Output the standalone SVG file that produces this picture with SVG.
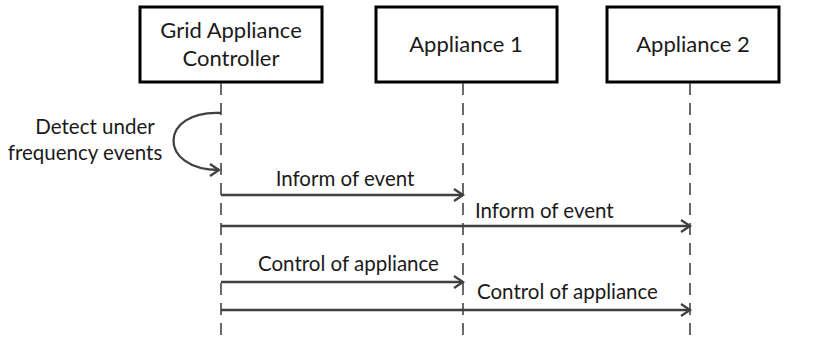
<svg xmlns="http://www.w3.org/2000/svg" width="832" height="343" viewBox="0 0 832 343">
<defs>
<style>
.box{fill:#fff;stroke:#000;stroke-width:3}
.t{font-family:Lato,"Liberation Sans",sans-serif;font-size:22px;fill:#1a1a1a;text-anchor:middle}
.m{font-family:Lato,"Liberation Sans",sans-serif;font-size:20.5px;fill:#1a1a1a}
.life{stroke:#444;stroke-width:1.6;stroke-dasharray:12 8;fill:none}
.msg{stroke:#404040;stroke-width:2.3;fill:none;marker-end:url(#ah)}
</style>
<marker id="ah" markerWidth="14" markerHeight="14" refX="11" refY="7" orient="auto" markerUnits="userSpaceOnUse">
<path d="M2,1 L11,7 L2,13" fill="none" stroke="#404040" stroke-width="2.3"/>
</marker>
</defs>
<rect width="832" height="343" fill="#fff"/>
<g id="gac">
<rect class="box" x="140" y="7" width="182" height="75"/>
<text class="t" x="231" y="38">Grid Appliance</text>
<text class="t" x="231" y="66">Controller</text>
</g>
<g id="app1">
<rect class="box" x="376" y="7" width="181" height="75"/>
<text class="t" x="466" y="52">Appliance 1</text>
</g>
<g id="app2">
<rect class="box" x="607" y="7" width="172" height="75"/>
<text class="t" x="693" y="52">Appliance 2</text>
</g>
<g id="connectors">
<line class="life" x1="221" y1="83" x2="221" y2="336"/>
<line class="life" x1="463" y1="83" x2="463" y2="336"/>
<line class="life" x1="690" y1="83" x2="690" y2="336"/>
<path class="msg" d="M221,113 C158,110 158,170 219,170"/>
<line class="msg" x1="221" y1="195" x2="463" y2="195"/>
<line class="msg" x1="221" y1="226" x2="690" y2="226"/>
<line class="msg" x1="221" y1="282" x2="463" y2="282"/>
<line class="msg" x1="221" y1="310" x2="690" y2="310"/>
</g>
<g id="labels">
<text class="m" x="95" y="134" text-anchor="middle">Detect under</text>
<text class="m" x="85" y="160" text-anchor="middle">frequency events</text>
<text class="m" x="345" y="186" text-anchor="middle">Inform of event</text>
<text class="m" x="475" y="218">Inform of event</text>
<text class="m" x="258" y="271">Control of appliance</text>
<text class="m" x="477" y="299">Control of appliance</text>
</g>
</svg>
